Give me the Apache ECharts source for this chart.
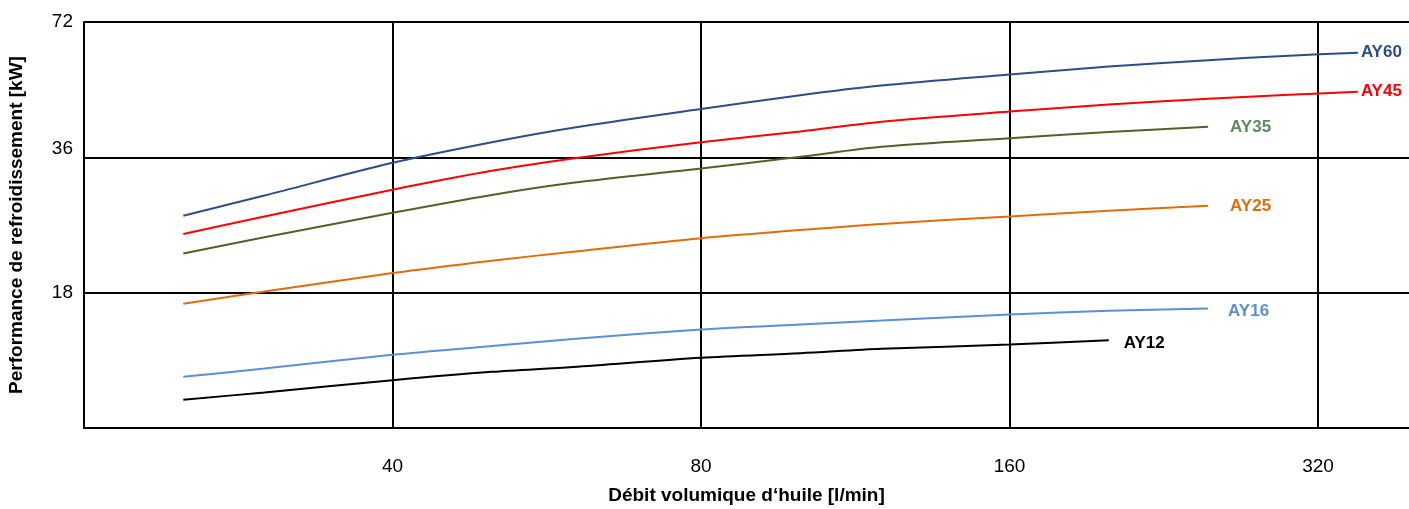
<!DOCTYPE html>
<html>
<head>
<meta charset="utf-8">
<script src="https://cdn.jsdelivr.net/npm/echarts@6/dist/echarts.min.js"></script>
<style>
  html, body { margin: 0; padding: 0; background: #fff; }
  #chart { width: 1409px; height: 509px; }
</style>
</head>
<body>
<div id="chart"></div>
<script>
// Oil flow rate [l/min] (log scale)
const flows = [25, 30, 40, 50, 60, 80, 100, 120, 160, 200, 250, 300, 350];
// Cooling performance [kW] (log scale)
const ay60 = [26.7, 29.6, 35.0, 38.9, 41.9, 46.1, 49.5, 52.0, 55.0, 57.3, 59.2, 60.6, 61.5];
const ay45 = [24.3, 26.6, 30.5, 33.6, 35.8, 38.9, 41.1, 43.2, 45.5, 47.2, 48.6, 49.6, 50.4];
const ay35 = [22.0, 23.9, 27.1, 29.7, 31.6, 34.0, 36.1, 38.0, 39.7, 41.0, 42.1];
const ay25 = [17.0, 18.1, 19.9, 21.2, 22.2, 23.8, 24.8, 25.6, 26.6, 27.4, 28.1];
const ay16 = [11.7, 12.2, 13.1, 13.7, 14.2, 14.9, 15.3, 15.6, 16.1, 16.4, 16.6];
const ay12 = [10.4, 10.8, 11.5, 12.0, 12.3, 12.9, 13.2, 13.5, 13.8, 14.1];

const xTicks = [40, 80, 160, 320];
const yTicks = [18, 36, 72];
const X_BASE = 5;  // log2(flow / 5): 40 -> 3, 80 -> 4 ...
const Y_BASE = 9;  // log2(kW / 9): 18 -> 1, 36 -> 2, 72 -> 3

const FONT = 'Liberation Sans, Arial, Helvetica, sans-serif';

function toPts(values) {
  return values.map((v, i) => [Math.log2(flows[i] / X_BASE), Math.log2(v / Y_BASE)]);
}

const seriesDefs = [
  { name: 'AY60', data: ay60, color: '#2B4E86', labelColor: '#2B4E86', dist: 3, off: [0, 0] },
  { name: 'AY45', data: ay45, color: '#FF0000', labelColor: '#FF0000', dist: 3, off: [0, 0] },
  { name: 'AY35', data: ay35, color: '#4F6228', labelColor: '#5A8A5E', dist: 22, off: [0, 1] },
  { name: 'AY25', data: ay25, color: '#E36C0A', labelColor: '#E36C0A', dist: 22, off: [0, 1] },
  { name: 'AY16', data: ay16, color: '#5B8FD6', labelColor: '#5B8FD6', dist: 20, off: [0, 3] },
  { name: 'AY12', data: ay12, color: '#000000', labelColor: '#000000', dist: 15, off: [0, 3] }
];

const chart = echarts.init(document.getElementById('chart'), null, { renderer: 'canvas' });

chart.setOption({
  animation: false,
  backgroundColor: '#ffffff',
  textStyle: { fontFamily: FONT },
  grid: { left: 84, right: 0, top: 22, bottom: 81, containLabel: false, outerBoundsMode: 'none' },
  xAxis: {
    type: 'value',
    min: 2,
    max: 6.295,
    interval: 1,
    name: 'Débit volumique d‘huile [l/min]',
    nameLocation: 'middle',
    nameGap: 58,
    nameTextStyle: { fontFamily: FONT, fontSize: 19, fontWeight: 'bold', color: '#000' },
    axisLine: { show: true, lineStyle: { color: '#000', width: 2 } },
    axisTick: { show: false },
    axisLabel: {
      show: true,
      margin: 29,
      fontFamily: FONT,
      fontSize: 19,
      color: '#000',
      showMinLabel: false,
      showMaxLabel: false,
      formatter: function (v) {
        const val = Math.round(X_BASE * Math.pow(2, v));
        return xTicks.indexOf(val) >= 0 && Math.abs(v - Math.round(v)) < 1e-6 ? String(val) : '';
      }
    },
    splitLine: {
      show: true,
      showMinLine: false,
      showMaxLine: false,
      lineStyle: { color: '#000', width: 2 }
    }
  },
  yAxis: {
    type: 'value',
    min: 0,
    max: 3,
    interval: 1,
    name: 'Performance de refroidissement [kW]',
    nameLocation: 'middle',
    nameGap: 58,
    nameRotate: 90,
    nameTextStyle: { fontFamily: FONT, fontSize: 19, fontWeight: 'bold', color: '#000' },
    axisLine: { show: true, lineStyle: { color: '#000', width: 2 } },
    axisTick: { show: false },
    axisLabel: {
      show: true,
      margin: 11,
      fontFamily: FONT,
      fontSize: 19,
      color: '#000',
      formatter: function (v) {
        const val = Math.round(Y_BASE * Math.pow(2, v));
        if (yTicks.indexOf(val) < 0) return '';
        if (val === 36) return '{up|' + val + '}';
        return String(val);
      },
      rich: {
        up: { fontFamily: FONT, fontSize: 19, color: '#000', padding: [0, 0, 18, 0] }
      }
    },
    splitLine: {
      show: true,
      showMinLine: false,
      lineStyle: { color: '#000', width: 2 }
    }
  },
  series: seriesDefs.map(s => ({
    name: s.name,
    type: 'line',
    data: toPts(s.data),
    smooth: 0.3,
    showSymbol: false,
    symbol: 'none',
    clip: false,
    lineStyle: { color: s.color, width: 2 },
    itemStyle: { color: s.color },
    endLabel: {
      show: true,
      formatter: s.name,
      distance: s.dist,
      offset: s.off,
      color: s.labelColor,
      fontFamily: FONT,
      fontSize: 17,
      fontWeight: 'bold'
    },
    emphasis: { disabled: true }
  }))
});
</script>
</body>
</html>
